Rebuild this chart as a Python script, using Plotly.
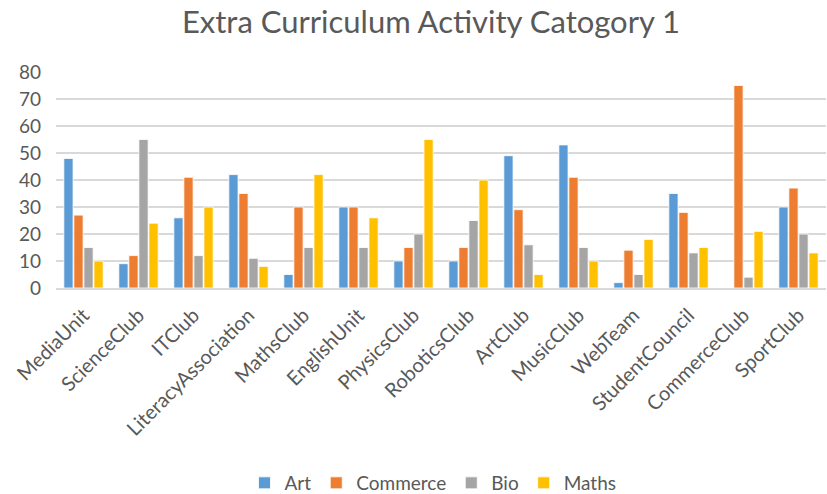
import plotly.graph_objects as go

categories = ["MediaUnit", "ScienceClub", "ITClub", "LiteracyAssociation", "MathsClub",
              "EnglishUnit", "PhysicsClub", "RoboticsClub", "ArtClub", "MusicClub",
              "WebTeam", "StudentCouncil", "CommerceClub", "SportClub"]
art = [48, 9, 26, 42, 5, 30, 10, 10, 49, 53, 2, 35, 0, 30]
commerce = [27, 12, 41, 35, 30, 30, 15, 15, 29, 41, 14, 28, 75, 37]
bio = [15, 55, 12, 11, 15, 15, 20, 25, 16, 15, 5, 13, 4, 20]
maths = [10, 24, 30, 8, 42, 26, 55, 40, 5, 10, 18, 15, 21, 13]
y_ticks = [0, 10, 20, 30, 40, 50, 60, 70, 80]

series = [("Art", art, "#5B9BD5"), ("Commerce", commerce, "#ED7D31"),
          ("Bio", bio, "#A5A5A5"), ("Maths", maths, "#FFC000")]

fig = go.Figure()
for name, vals, col in series:
    fig.add_trace(go.Bar(x=categories, y=vals, name=name, marker_color=col,
                         marker_line=dict(color="white", width=0.8)))

font_family = "Lato, 'Open Sans', sans-serif"
fig.update_layout(
    width=827, height=494,
    barmode="group", bargap=0.27, bargroupgap=0.08,
    paper_bgcolor="white", plot_bgcolor="white",
    margin=dict(l=56, r=1, t=72, b=206),
    title=dict(text="Extra Curriculum Activity Catogory 1", x=431/827, xref="container",
               xanchor="center", y=1-22/494, yref="container", yanchor="middle",
               font=dict(family=font_family, size=31, color="#595959")),
    font=dict(family=font_family, color="#595959"),
    legend=dict(orientation="h", x=433/827, xanchor="center", xref="container",
                y=1-483/494, yref="container", yanchor="middle",
                font=dict(size=19, color="#595959"), itemwidth=30,
                traceorder="normal"),
    showlegend=True,
)
fig.update_yaxes(range=[0, 80], tickvals=y_ticks, showgrid=True, gridcolor="#D9D9D9",
                 gridwidth=1.5, zeroline=False, showline=False,
                 tickfont=dict(size=19, color="#595959"), ticklabelstandoff=14)
fig.update_xaxes(tickangle=-45, tickfont=dict(size=20, color="#595959"),
                 showline=True, linecolor="#D9D9D9", linewidth=1.5, ticks="",
                 ticklabelstandoff=6)

fig.write_html("out.html")
